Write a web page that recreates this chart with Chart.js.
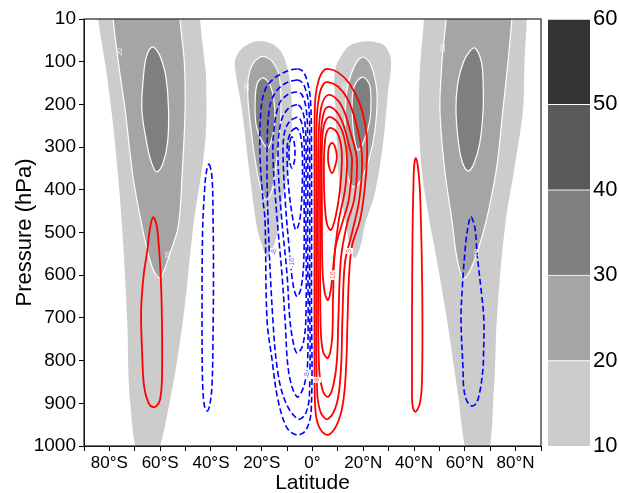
<!DOCTYPE html>
<html><head><meta charset="utf-8">
<script src="https://cdn.jsdelivr.net/npm/chart.js@4.4.0/dist/chart.umd.min.js"></script>
<style>
html,body{margin:0;padding:0;background:#fff;}
#wrap{position:relative;width:619px;height:493px;background:#fff;}
#main{position:absolute;left:0;top:0;}
#cbar{position:absolute;left:548px;top:0;}
</style></head><body>
<div id="wrap"><canvas id="main" width="619" height="493"></canvas><canvas id="cbar" width="71" height="493"></canvas></div>
<script>
// ---------- axis ticks ----------
const xTickValues = [-80,-60,-40,-20,0,20,40,60,80];
const xTickLabels = ['80°S','60°S','40°S','20°S','0°','20°N','40°N','60°N','80°N'];
const yTickValues = [0,100,200,300,400,500,600,700,800,900,1000];
const yTickLabels = ['10','100','200','300','400','500','600','700','800','900','1000'];

// ---------- colour bar ----------
const cbLevels = [10,20,30,40,50,60];
const cbColors = ['#cccccc','#a5a5a5','#7f7f7f','#595959','#333333'];

// ---------- zonal wind shading: [latitude, pressure] outlines ----------
const shPolar10 = [[-84.4,-40],[-44.3,-40],[-44.3,0],[-42.5,100],[-41.9,136],[-42.3,290],[-47.0,487],[-51.0,705],[-56.1,892],[-62.5,1040],[-68.0,1040],[-71.9,892],[-73.0,705],[-75.0,487],[-77.8,290],[-80.9,136],[-84.4,0]];
const shPolar20 = [[-78.5,-40],[-52.2,-40],[-52.2,0],[-50.5,100],[-50.2,213],[-51.4,370],[-52.9,487],[-56.1,548],[-58.5,590],[-60.0,607],[-62.5,590],[-64.8,548],[-67.1,487],[-70.7,370],[-73.8,213],[-76.5,100],[-78.5,0]];
const shPolar30 = [[-63.4,66],[-65.5,90],[-66.6,136],[-67.2,213],[-65.3,290],[-63.5,335],[-61.4,358],[-59.0,340],[-57.1,290],[-56.7,213],[-57.7,136],[-59.5,95],[-61.5,72]];
const shSub10 = [[-21.5,52],[-25.4,59],[-28.5,73],[-30.5,96],[-30.1,131],[-27.8,213],[-24.6,370],[-21.9,487],[-19.9,529],[-17.9,557],[-15.9,541],[-13.6,494],[-12.0,424],[-9.6,354],[-8.5,283],[-8.1,213],[-8.9,143],[-10.8,96],[-12.8,73],[-16.7,56]];
const shSub20 = [[-20.7,89],[-23.8,108],[-25.4,143],[-25.4,190],[-24.2,260],[-22.6,330],[-20.7,389],[-18.3,424],[-15.9,400],[-14.4,342],[-12.8,260],[-12.4,190],[-13.2,131],[-15.6,101],[-18.3,89]];
const shSub30 = [[-19.5,138],[-21.7,150],[-22.6,190],[-22.2,248],[-19.9,285],[-17.5,302],[-15.6,270],[-14.8,237],[-15.2,190],[-16.7,155]];
const nhSub10 = [[21.9,52],[16.0,58],[12.8,73],[8.9,119],[8.9,190],[9.6,283],[10.8,400],[13.2,480],[15.0,540],[16.7,560],[19.0,530],[20.7,480],[24.6,407],[27.8,290],[29.7,173],[30.9,96],[28.5,63],[24.6,54]];
const nhSub20 = [[19.9,89],[23.0,108],[25.4,173],[24.6,260],[22.2,330],[18.7,380],[15.9,393],[13.6,360],[13.2,300],[12.8,237],[13.6,166],[16.7,108]];
const nhSub30 = [[19.5,136],[22.2,150],[23.0,180],[22.6,237],[20.3,285],[17.9,307],[16.3,270],[15.6,210],[16.3,160]];
const nhPolar10 = [[43.9,-40],[84.4,-40],[84.4,0],[83.5,100],[82.9,213],[79.5,350],[75.8,487],[72.6,705],[71.5,862],[68.4,1040],[61.9,1040],[56.9,862],[53.0,705],[48.5,550],[46.0,471],[43.0,350],[41.9,213],[42.5,100],[43.9,0]];
const nhPolar20 = [[52.6,-40],[78.5,-40],[78.5,0],[77.0,100],[75.0,213],[72.5,350],[68.5,471],[64.8,548],[61.5,595],[59.3,607],[56.9,560],[54.9,471],[52.0,350],[50.2,213],[51.0,100],[52.6,0]];
const nhPolar30 = [[64.0,68],[66.5,100],[67.2,150],[67.2,213],[65.9,290],[63.5,340],[61.2,356],[59.0,335],[57.5,290],[56.5,213],[57.2,150],[59.5,100],[62.0,75]];

// ---------- streamfunction, negative (dashed blue) ----------
const sh1 = [[-6.1,117],[-10.8,124],[-15.9,143],[-18.7,166],[-20.3,213],[-20.7,314],[-19.5,424],[-18.7,471],[-17.9,705],[-15.9,799],[-13.6,892],[-10.0,958],[-6.1,974],[-2.6,963],[-0.5,916],[-0.4,658],[-0.4,307],[-0.8,190],[-2.2,143],[-3.9,122]];
const sh2 = [[-6.1,143],[-10.4,150],[-14.4,170],[-17.0,210],[-17.9,314],[-17.5,471],[-15.6,705],[-13.6,830],[-10.4,900],[-5.7,937],[-2.8,925],[-1.2,880],[-1.1,600],[-1.1,300],[-1.5,200],[-3.0,160],[-4.4,147]];
const sh3 = [[-6.1,171],[-10.0,178],[-13.2,200],[-15.0,250],[-15.6,314],[-14.2,450],[-12.0,600],[-10.8,705],[-9.3,830],[-6.1,885],[-3.4,860],[-1.9,800],[-1.9,500],[-1.9,280],[-2.5,210],[-4.1,178]];
const sh4 = [[-6.1,201],[-9.6,210],[-12.4,240],[-13.6,314],[-12.4,450],[-10.0,600],[-8.9,705],[-7.5,760],[-6.1,782],[-3.9,765],[-2.6,700],[-2.6,450],[-2.6,280],[-3.3,230],[-4.6,207]];
const sh5 = [[-6.1,230],[-9.0,240],[-11.0,265],[-11.6,314],[-10.8,420],[-9.3,530],[-7.7,620],[-6.1,650],[-4.5,630],[-3.4,560],[-3.3,400],[-3.3,290],[-4.0,250],[-5.0,233]];
const sh6 = [[-6.5,255],[-8.5,265],[-9.8,290],[-10.0,330],[-9.3,400],[-7.7,470],[-6.5,494],[-5.0,470],[-4.1,400],[-4.0,320],[-4.6,275],[-5.5,260]];
const sh7 = [[-8.1,276],[-9.0,290],[-9.3,314],[-9.0,335],[-8.1,349],[-7.2,335],[-6.9,314],[-7.2,290]];
const sh40 = [[-40.7,340],[-39.6,370],[-39.2,450],[-39.0,600],[-39.2,750],[-39.6,860],[-40.5,905],[-41.5,918],[-42.6,905],[-43.3,850],[-43.5,700],[-43.3,500],[-42.5,400],[-41.7,355]];
const nh60 = [[62.4,464],[64.0,490],[64.8,548],[66.5,640],[67.5,705],[67.3,800],[67.1,822],[66.0,870],[64.5,900],[62.4,906],[60.5,890],[59.5,860],[59.3,822],[58.5,705],[59.0,630],[60.0,548],[61.0,495]];

// ---------- streamfunction, positive (solid red) ----------
const nh1 = [[6.1,117],[10.0,125],[14.4,150],[18.7,200],[21.1,260],[21.5,320],[20.5,400],[18.7,471],[15.6,530],[14.4,600],[13.8,705],[13.2,820],[12.0,900],[9.6,950],[6.1,974],[3.0,960],[1.2,920],[0.8,800],[0.8,500],[0.8,250],[1.2,180],[2.6,140],[4.2,122]];
const nh2 = [[6.1,148],[10.0,158],[13.6,185],[17.0,240],[19.5,320],[18.5,420],[15.6,500],[12.8,570],[11.8,700],[11.2,820],[9.6,900],[6.1,937],[3.5,925],[1.9,880],[1.5,700],[1.5,400],[1.7,230],[2.8,175],[4.4,152]];
const nh3 = [[6.1,178],[9.6,188],[12.4,215],[15.2,270],[17.5,330],[16.5,420],[13.6,480],[11.2,560],[10.2,700],[9.6,800],[8.1,860],[6.1,885],[4.0,870],[2.6,820],[2.2,600],[2.2,350],[2.6,250],[3.7,200]];
const nh4 = [[6.1,206],[9.2,215],[12.0,245],[14.5,300],[15.6,330],[14.4,420],[11.6,480],[8.9,540],[8.1,650],[7.7,750],[6.1,794],[4.2,780],[3.2,720],[3.0,500],[3.0,330],[3.4,260],[4.4,220]];
const nh5 = [[6.5,230],[9.6,240],[12.4,275],[13.6,330],[12.8,400],[10.4,470],[8.5,560],[7.3,630],[6.1,658],[4.8,640],[3.9,580],[3.7,420],[3.7,300],[4.5,250]];
const nh6 = [[6.9,255],[9.6,265],[11.2,295],[11.6,330],[10.8,400],[9.2,460],[7.3,494],[5.7,480],[4.7,420],[4.5,330],[5.0,280],[5.8,262]];
const nh7 = [[7.7,290],[8.9,300],[9.6,323],[8.9,345],[7.7,361],[6.5,345],[6.1,323],[6.5,300]];
const nh40 = [[40.7,326],[41.5,345],[42.3,400],[43.0,550],[43.3,700],[43.1,850],[42.3,900],[40.5,920],[39.4,905],[39.2,850],[39.2,700],[39.4,500],[39.8,380],[40.1,340]];
const sh60 = [[-62.8,464],[-61.5,480],[-60.8,511],[-59.8,600],[-59.3,705],[-59.3,846],[-60.0,890],[-61.2,905],[-62.8,909],[-64.5,900],[-66.3,862],[-67.1,782],[-67.5,682],[-66.5,600],[-65.2,548],[-64.0,490]];

// ---------- inline contour labels ----------
const labelText = ['20','20','20','20','20','20','16','8','8','-8','-16','-8'];
const labelLat  = [-75.8,-25.8,-56.9,12.8,51.4,64.8,8.1,14.4,1.8,-15.2,-8.1,-2.2];
const labelP    = [77,159,553,159,68,548,600,543,845,546,571,834];
const labelKind = ['g','g','g','g','g','g','r','r','r','b','b','b'];

// ---------- build ----------
function loop(pts){
  const n = pts.length;
  const seq = [pts[n-1], ...pts, pts[0], pts[1]];
  return seq.map(p => ({x:p[0], y:p[1]}));
}
function hideEnds(n){
  return ctx => (ctx.p0DataIndex === 0 || ctx.p1DataIndex === n-1) ? 'rgba(0,0,0,0)' : undefined;
}
function shade(pts, lvl){
  const data = loop(pts);
  const col = cbColors[cbLevels.indexOf(lvl)];
  const edge = lvl > 10;
  return {data, showLine:true, fill:'shape', backgroundColor:col,
    borderColor: edge ? '#ffffff' : col, borderWidth: edge ? 1.2 : 0,
    pointRadius:0, tension:0.35, order: 10 - lvl/10,
    segment:{borderColor: hideEnds(data.length)}};
}
function contour(pts, neg){
  const data = loop(pts);
  return {data, showLine:true, fill:false,
    borderColor: neg ? '#0000ff' : '#ff0000', borderWidth: neg ? 1.6 : 1.8,
    borderDash: neg ? [6,3] : [], pointRadius:0, tension:0.35, order:1,
    segment:{borderColor: hideEnds(data.length)}};
}

const datasets = [];
[shPolar10, shSub10, nhSub10, nhPolar10].forEach(p => datasets.push(shade(p,10)));
[shPolar20, shSub20, nhSub20, nhPolar20].forEach(p => datasets.push(shade(p,20)));
[shPolar30, shSub30, nhSub30, nhPolar30].forEach(p => datasets.push(shade(p,30)));
[sh1,sh2,sh3,sh4,sh5,sh6,sh7,sh40,nh60].forEach(p => datasets.push(contour(p,true)));
[nh1,nh2,nh3,nh4,nh5,nh6,nh7,nh40,sh60].forEach(p => datasets.push(contour(p,false)));

const FONT = 'Liberation Sans, Arial, sans-serif';

const framePlugin = {
  id:'frame',
  afterDatasetsDraw(chart){
    const {ctx, chartArea:a, scales} = chart;
    ctx.save();
    ctx.font = '7px ' + FONT;
    ctx.textAlign = 'center'; ctx.textBaseline = 'middle';
    for (let i = 0; i < labelText.length; i++){
      const px = scales.x.getPixelForValue(labelLat[i]);
      const py = scales.y.getPixelForValue(labelP[i]);
      ctx.save();
      ctx.translate(px, py); ctx.rotate(-Math.PI/2);
      const w = ctx.measureText(labelText[i]).width;
      if (labelKind[i] !== 'g'){ ctx.fillStyle = '#ffffff'; ctx.fillRect(-w/2-1, -4, w+2, 8); }
      ctx.fillStyle = labelKind[i] === 'g' ? '#f2f2f2' : (labelKind[i] === 'r' ? '#ff6666' : '#6666ff');
      ctx.fillText(labelText[i], 0, 0);
      ctx.restore();
    }
    ctx.strokeStyle = '#222'; ctx.lineWidth = 1.2;
    ctx.strokeRect(a.left, a.top, a.right - a.left, a.bottom - a.top);
    ctx.restore();
  }
};

new Chart(document.getElementById('main'), {
  type:'scatter',
  data:{datasets},
  plugins:[framePlugin],
  options:{
    responsive:false, animation:false, devicePixelRatio:1,
    layout:{padding:{left:0, right:78, top:19, bottom:0}},
    plugins:{legend:{display:false}, tooltip:{enabled:false}},
    scales:{
      x:{type:'linear', min:-90, max:90,
        afterBuildTicks: s => { s.ticks = [-90,-80,-70,-60,-50,-40,-30,-20,-10,0,10,20,30,40,50,60,70,80,90].map(v=>({value:v})); },
        ticks:{autoSkip:false, maxRotation:0, color:'#000', padding:2,
          font:{family:FONT, size:17},
          callback: v => { const i = xTickValues.indexOf(v); return i >= 0 ? xTickLabels[i] : ''; }},
        grid:{display:true, drawOnChartArea:false, drawTicks:true, tickLength:5, color:'#000'},
        border:{display:true, color:'#000'},
        title:{display:true, text:'Latitude', color:'#000', font:{family:FONT, size:21, lineHeight:1}, padding:{top:0, bottom:-1}},
        afterFit: s => { s.height = 47; }
      },
      y:{type:'linear', reverse:true, min:0, max:1000,
        afterBuildTicks: s => { s.ticks = yTickValues.map(v=>({value:v})); },
        ticks:{autoSkip:false, color:'#000', padding:3, font:{family:FONT, size:19},
          callback: v => { const i = yTickValues.indexOf(v); return i >= 0 ? yTickLabels[i] : ''; }},
        grid:{display:true, drawOnChartArea:false, drawTicks:true, tickLength:5, color:'#000'},
        border:{display:true, color:'#000'},
        title:{display:true, text:'Pressure (hPa)', color:'#000', font:{family:FONT, size:22, lineHeight:1}, padding:{top:14, bottom:0}},
        afterFit: s => { s.width = 84; }
      }
    }
  }
});

// ---------- colour bar ----------
const cbSets = cbColors.map((c,i) => ({
  data:[[cbLevels[i], cbLevels[i+1]]], backgroundColor:c,
  borderColor:'#ffffff', borderWidth:{top:1, bottom:0, left:0, right:0}, borderSkipped:false,
  barPercentage:1, categoryPercentage:1, grouped:false
}));
new Chart(document.getElementById('cbar'), {
  type:'bar',
  data:{labels:['w'], datasets:cbSets},
  options:{
    responsive:false, animation:false, devicePixelRatio:1,
    layout:{padding:{left:0, right:0, top:19, bottom:47}},
    plugins:{legend:{display:false}, tooltip:{enabled:false}},
    scales:{
      x:{display:false},
      y:{position:'right', min:10, max:60,
        afterBuildTicks: s => { s.ticks = cbLevels.map(v=>({value:v})); },
        ticks:{color:'#000', padding:3, font:{family:FONT, size:22}},
        grid:{display:false, drawTicks:false}, border:{display:false},
        afterFit: s => { s.width = 29; }
      }
    }
  }
});
</script>
</body></html>
